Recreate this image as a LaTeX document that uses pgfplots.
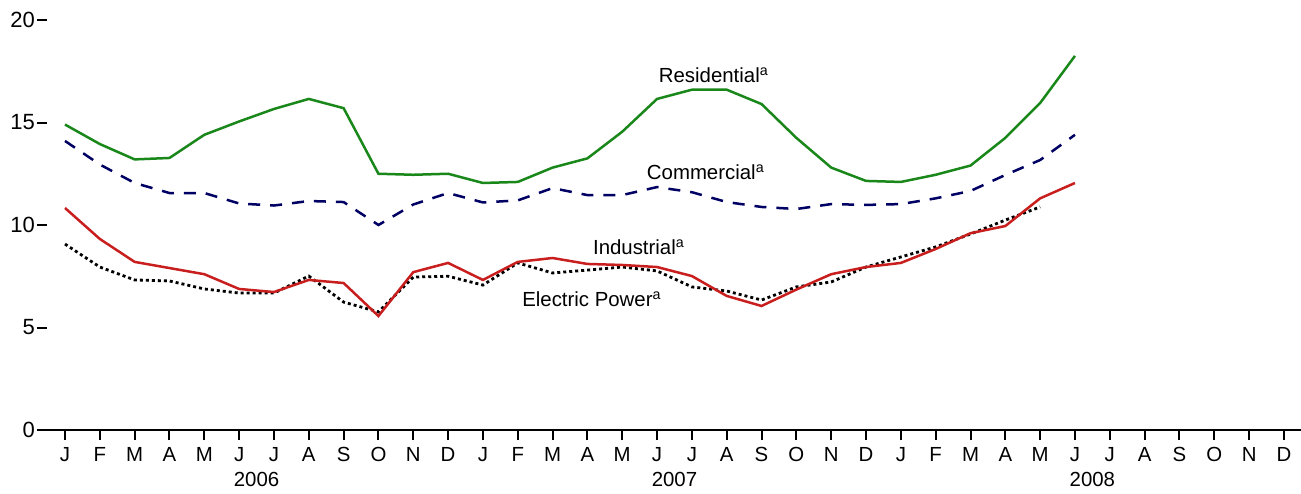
\documentclass[border=0pt]{standalone}
\usepackage{pgfplots}
\pgfplotsset{compat=1.18}
\usepackage{fontspec}
\setmainfont{Liberation Sans}
\definecolor{resgreen}{RGB}{26,135,26}
\definecolor{comnavy}{RGB}{0,0,100}
\definecolor{indred}{RGB}{200,30,30}
\begin{document}
\fontsize{10.2}{12}\selectfont
\begin{tikzpicture}
\begin{axis}[
  scale only axis, width=632pt, height=205pt,
  xmin=-0.804, xmax=35.49, ymin=0, ymax=20,
  axis x line=bottom, axis y line=left,
  axis line style={-, line width=1pt, black},
  y axis line style={draw=none},
  xtick={0,...,35},
  xticklabels={J,F,M,A,M,J,J,A,S,O,N,D,J,F,M,A,M,J,J,A,S,O,N,D,J,F,M,A,M,J,J,A,S,O,N,D},
  ytick={0,5,10,15,20},
  tick align=outside, major tick length=5pt,
  tick style={black, line width=1pt},
  ytick style={xshift=5pt},
  every tick label/.append style={font=\fontsize{10.2}{12}\selectfont},
  yticklabel style={font=\fontsize{11}{13}\selectfont, xshift=7.5pt},
  /pgf/number format/assume math mode=true,
  clip=false,
]
\addplot[resgreen, line width=1.25pt] coordinates {
(0,14.9)(1,13.95)(2,13.2)(3,13.27)(4,14.4)(5,15.05)(6,15.66)(7,16.15)(8,15.7)(9,12.5)(10,12.45)(11,12.5)
(12,12.05)(13,12.1)(14,12.8)(15,13.25)(16,14.55)(17,16.15)(18,16.6)(19,16.6)(20,15.9)(21,14.25)(22,12.8)(23,12.15)
(24,12.1)(25,12.45)(26,12.9)(27,14.25)(28,15.95)(29,18.25)};
\addplot[comnavy, line width=1.25pt, dash pattern=on 6pt off 5pt] coordinates {
(0,14.1)(1,12.95)(2,12.05)(3,11.56)(4,11.56)(5,11.05)(6,10.95)(7,11.17)(8,11.12)(9,10.0)(10,11.0)(11,11.56)
(12,11.1)(13,11.2)(14,11.8)(15,11.46)(16,11.46)(17,11.85)(18,11.6)(19,11.12)(20,10.88)(21,10.78)(22,11.02)(23,10.98)
(24,11.02)(25,11.3)(26,11.66)(27,12.44)(28,13.17)(29,14.4)};
\addplot[black, line width=1.4pt, dash pattern=on 1.5pt off 1.5pt] coordinates {
(0,9.07)(1,7.95)(2,7.32)(3,7.27)(4,6.88)(5,6.68)(6,6.68)(7,7.51)(8,6.24)(9,5.76)(10,7.46)(11,7.5)
(12,7.07)(13,8.15)(14,7.66)(15,7.8)(16,7.95)(17,7.76)(18,6.98)(19,6.78)(20,6.34)(21,6.98)(22,7.22)(23,7.95)
(24,8.44)(25,8.93)(26,9.56)(27,10.24)(28,10.88)};
\addplot[indred, line width=1.25pt] coordinates {
(0,10.83)(1,9.32)(2,8.2)(3,7.9)(4,7.6)(5,6.88)(6,6.73)(7,7.32)(8,7.17)(9,5.56)(10,7.7)(11,8.15)
(12,7.32)(13,8.2)(14,8.39)(15,8.1)(16,8.05)(17,7.95)(18,7.51)(19,6.54)(20,6.05)(21,6.85)(22,7.6)(23,7.95)
(24,8.15)(25,8.83)(26,9.6)(27,9.95)(28,11.3)(29,12.05)};
\node at (axis cs:18.63,17.32) {Residential\textsuperscript{a}};
\node at (axis cs:18.4,12.59) {Commercial\textsuperscript{a}};
\node at (axis cs:16.48,8.93) {Industrial\textsuperscript{a}};
\node at (axis cs:15.13,6.39) {Electric Power\textsuperscript{a}};
\node at (axis cs:5.5,0) [yshift=-24.5pt] {2006};
\node at (axis cs:17.5,0) [yshift=-24.5pt] {2007};
\node at (axis cs:29.5,0) [yshift=-24.5pt] {2008};
\end{axis}
\pgfresetboundingbox
\path (-18.5pt,-31.5pt) rectangle (632pt,215pt);
\end{tikzpicture}
\end{document}
